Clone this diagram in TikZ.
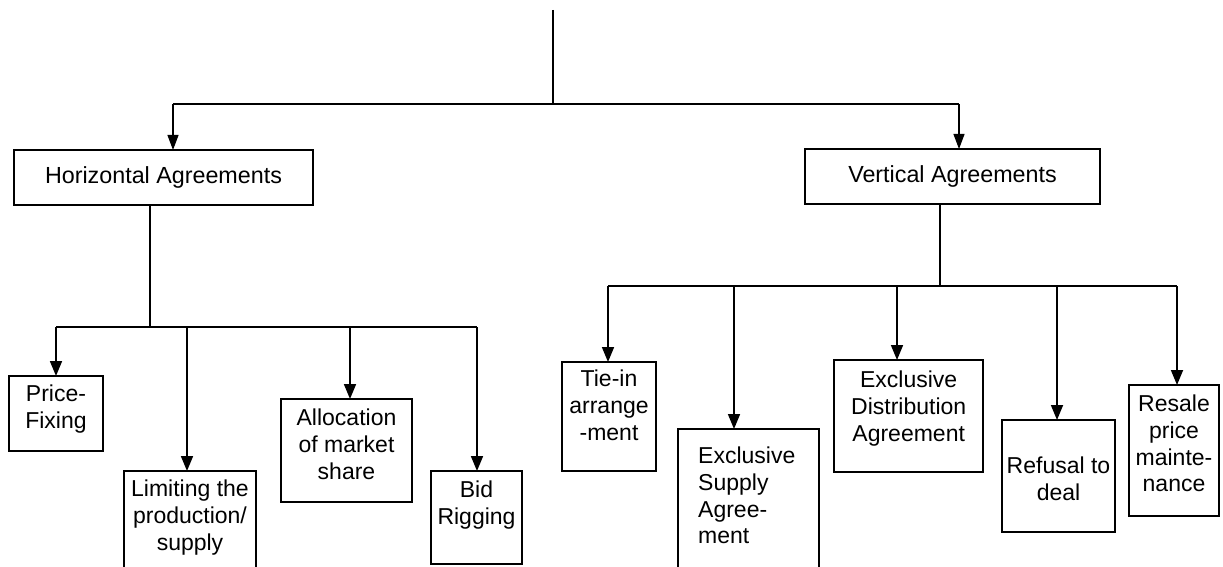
\documentclass[tikz,border=0pt]{standalone}
\usepackage{fontspec}
\setmainfont{Liberation Sans}
\usetikzlibrary{arrows.meta,fit}
\begin{document}
\begin{tikzpicture}[x=1pt,y=-1pt,
  box/.style={draw, line width=1.7pt, inner sep=0pt, outer sep=0pt},
  bigbox/.style={box, font=\fontsize{23.3}{26.7}\selectfont},
  lbl/.style={inner sep=0pt, align=center, anchor=north, font=\fontsize{23}{26.7}\selectfont},
  ln/.style={line width=1.7pt},
  thinln/.style={line width=1.1pt},
  arr/.style={line width=1.7pt, -{Triangle[length=15pt,width=12pt]}},
  thinarr/.style={line width=1.1pt, -{Triangle[length=15pt,width=11pt]}}]
\useasboundingbox (0,0) rectangle (1223,567);
\clip (0,0) rectangle (1223,567);

% top level boxes
\node[bigbox, minimum width=299pt, minimum height=55pt] (ha) at (163.5,177.5) {Horizontal Agreements};
\node[bigbox, minimum width=295pt, minimum height=55pt] (va) at (952.5,176.5) {Vertical Agreements};

% top stem and bus
\coordinate (top) at (553,10);
\coordinate (b1m) at (553,104);
\coordinate (b1l) at (173,104);
\coordinate (b1r) at (959,104);
\draw[thinln] (top) -- (b1m);
\draw[ln] (b1l) -- (b1r);
\draw[thinarr] (b1l) -- (b1l |- ha.north);
\draw[thinarr] (b1r) -- (b1r |- va.north);

% horizontal children
\node[box, fit={(9,376) (103,451)}] (pf) {};
\node[box, fit={(124,471) (256,600)}] (lp) {};
\node[box, fit={(281,399) (412,502)}] (am) {};
\node[box, fit={(431,471) (522,564)}] (br) {};
\node[lbl] (pft) at (56,385) {Price-\\Fixing};
\node[lbl] (lpt) at (190,480) {Limiting the\\production/\\supply};
\node[lbl] (amt) at (346.5,409) {Allocation\\of market\\share};
\node[lbl] (brt) at (476.5,481) {Bid\\Rigging};

\coordinate (hs) at (150,327);
\coordinate (b2a) at (56,327);
\coordinate (b2b) at (187,327);
\coordinate (b2c) at (350,327);
\coordinate (b2d) at (477,327);
\draw[ln] (hs |- ha.south) -- (hs);
\draw[ln] (b2a) -- (b2d);
\draw[arr] (b2a) -- (b2a |- pf.north);
\draw[arr] (b2b) -- (b2b |- lp.north);
\draw[arr] (b2c) -- (b2c |- am.north);
\draw[arr] (b2d) -- (b2d |- br.north);

% vertical children
\node[box, fit={(562,362) (656,471)}] (ti) {};
\node[box, fit={(678,429) (819,600)}] (es) {};
\node[box, fit={(834,360) (983,472)}] (ed) {};
\node[box, fit={(1002,420) (1115,532)}] (rd) {};
\node[box, fit={(1129,385) (1219,516)}] (rp) {};
\node[lbl] (tit) at (609,370) {Tie-in\\arrange\\-ment};
\node[lbl, align=left, anchor=north west] (est) at (698,447) {Exclusive\\Supply\\Agree-\\ment};
\node[lbl] (edt) at (908.7,371) {Exclusive\\Distribution\\Agreement};
\node[lbl] (rdt) at (1058.5,457) {Refusal to\\deal};
\node[lbl] (rpt) at (1174,395) {Resale\\price\\mainte-\\nance};

\coordinate (vs) at (940,286);
\coordinate (b3a) at (608,286);
\coordinate (b3b) at (734,286);
\coordinate (b3c) at (897,286);
\coordinate (b3d) at (1057,286);
\coordinate (b3e) at (1177,286);
\draw[ln] (vs |- va.south) -- (vs);
\draw[ln] (b3a) -- (b3e);
\draw[arr] (b3a) -- (b3a |- ti.north);
\draw[arr] (b3b) -- (b3b |- es.north);
\draw[arr] (b3c) -- (b3c |- ed.north);
\draw[arr] (b3d) -- (b3d |- rd.north);
\draw[arr] (b3e) -- (b3e |- rp.north);
\end{tikzpicture}
\end{document}
